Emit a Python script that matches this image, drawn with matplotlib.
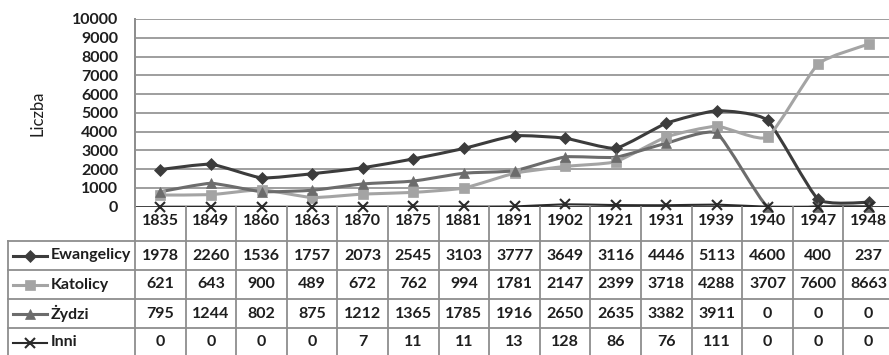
import numpy as np
import matplotlib
matplotlib.use("Agg")
import matplotlib.pyplot as plt
from matplotlib.path import Path
from matplotlib.patches import PathPatch

plt.rcParams['font.family'] = ['Lato', 'DejaVu Sans']

years = ['1835', '1849', '1860', '1863', '1870', '1875', '1881', '1891',
         '1902', '1921', '1931', '1939', '1940', '1947', '1948']
ewangelicy = [1978, 2260, 1536, 1757, 2073, 2545, 3103, 3777, 3649, 3116, 4446, 5113, 4600, 400, 237]
katolicy = [621, 643, 900, 489, 672, 762, 994, 1781, 2147, 2399, 3718, 4288, 3707, 7600, 8663]
zydzi = [795, 1244, 802, 875, 1212, 1365, 1785, 1916, 2650, 2635, 3382, 3911, 0, 0, 0]
inni = [0, 0, 0, 0, 7, 11, 11, 13, 128, 86, 76, 111, 0, 0, 0]

series = [
    ('Ewangelicy', ewangelicy, '#3c3c3c', 'D', 6.5, 2.2),
    ('Katolicy', katolicy, '#a4a4a4', 's', 7.5, 2.2),
    ('Żydzi', zydzi, '#6c6c6c', '^', 7.5, 2.2),
    ('Inni', inni, '#2a2a2a', 'x', 7.5, 1.5),
]

W, H = 889, 355
left, col_w = 135, 50.6
top_y, axis_y = 19, 206.7
head_bot, row_h = 241, 29
leg_left = 8
grid_c = '#8e8e8e'
txt_c = '#1e1e1e'
fs = 11.5

fig = plt.figure(figsize=(W / 100, H / 100), dpi=100)

# chart area
n = len(years)
ax = fig.add_axes([left / W, (H - axis_y) / H, n * col_w / W, (axis_y - top_y) / H])
ax.set_xlim(-0.5, n - 0.5)
ax.set_ylim(0, 10000)
ax.set_yticks(range(0, 10001, 1000))
ax.set_yticklabels([str(v) for v in range(0, 10001, 1000)], fontsize=fs,
                   fontweight='bold', color=txt_c)
ax.tick_params(axis='y', length=0, pad=12)
ax.set_xticks([])
for s in ['top', 'right', 'bottom']:
    ax.spines[s].set_visible(False)
ax.spines['left'].set_color(grid_c)
ax.spines['left'].set_linewidth(1.3)
for v in range(1000, 10001, 1000):
    ax.axhline(v, color=grid_c, lw=1.2, zorder=1)
ax.axhline(0, color='#333333', lw=1.3, zorder=1)
fig.text(37 / W, 1 - 113 / H, 'Liczba', rotation=90, ha='center', va='center',
         fontsize=12, color=txt_c)


def smooth_path(xs, ys, k=12):
    # gently smoothed line: cubic Bezier segments through the points
    pts = np.column_stack([xs, ys]).astype(float)
    verts = [pts[0]]
    codes = [Path.MOVETO]
    m = len(pts)
    for i in range(m - 1):
        p0 = pts[max(i - 1, 0)]
        p1 = pts[i]
        p2 = pts[i + 1]
        p3 = pts[min(i + 2, m - 1)]
        c1 = p1 + (p2 - p0) / k
        c2 = p2 - (p3 - p1) / k
        verts += [c1, c2, p2]
        codes += [Path.CURVE4] * 3
    return Path(verts, codes)


x = np.arange(n)
for name, vals, col, mk, ms, lw in series:
    patch = PathPatch(smooth_path(x, vals), fill=False, edgecolor=col, lw=lw, zorder=3)
    ax.add_patch(patch)
    ax.plot(x, vals, linestyle='none', marker=mk, color=col, markersize=ms,
            markeredgewidth=1.5 if mk == 'x' else 0.5, zorder=4, clip_on=False)

# data table underneath
tb = fig.add_axes([0, 0, 1, 1])
tb.set_xlim(0, W)
tb.set_ylim(H, 0)
tb.axis('off')
right = left + n * col_w
bottom = head_bot + 4 * row_h
for i in range(n + 1):
    xv = left + i * col_w
    tb.plot([xv, xv], [axis_y if i else top_y, bottom], color=grid_c, lw=1.3)
for j in range(5):
    yv = head_bot + j * row_h
    tb.plot([leg_left, right], [yv, yv], color=grid_c, lw=1.3)
tb.plot([leg_left, leg_left], [head_bot, bottom], color=grid_c, lw=1.3)

for i, yr in enumerate(years):
    tb.text(left + (i + 0.5) * col_w, 221, yr, ha='center', va='center',
            fontsize=fs, fontweight='bold', color=txt_c)

for j, (name, vals, col, mk, ms, lw) in enumerate(series):
    yc = head_bot + (j + 0.5) * row_h
    tb.plot([13, 47], [yc, yc], color=col, lw=lw)
    tb.plot([30], [yc], marker=mk, color=col, markersize=ms * 0.9,
            markeredgewidth=1.5 if mk == 'x' else 0.5)
    tb.text(51, yc, name, ha='left', va='center', fontsize=fs, fontweight='bold',
            color=txt_c)
    for i, v in enumerate(vals):
        tb.text(left + (i + 0.5) * col_w, yc, str(v), ha='center', va='center',
                fontsize=fs, fontweight='bold', color=txt_c)

fig.savefig('out.png', dpi=100)
